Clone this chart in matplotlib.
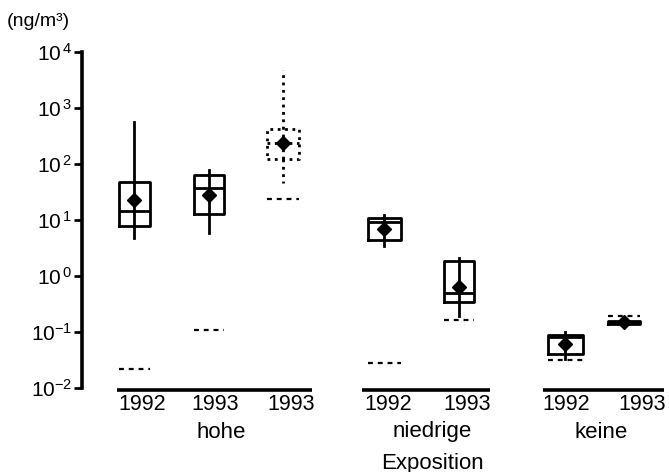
import matplotlib
matplotlib.use("Agg")
import matplotlib.pyplot as plt

plt.rcParams['font.family'] = ['Liberation Sans', 'DejaVu Sans']
plt.rcParams['mathtext.fontset'] = 'custom'
plt.rcParams['mathtext.rm'] = 'Liberation Sans'

# values (ng/m3)
years = ['1992', '1993', '1993', '1992', '1993', '1992', '1993']
q1 = [7.8, 12.6, 123, 4.4, 0.35, 0.041, 0.14]
q3 = [47, 63, 420, 10.7, 1.85, 0.089, 0.16]
medians = [14.7, 38, 240, 9.1, 0.49, 0.081, 0.15]
means = [23, 28, 234, 6.9, 0.63, 0.061, 0.15]
whislo = [4.7, 5.8, 45, 3.4, 0.19, 0.033, 0.14]
whishi = [555, 78, 4800, 12.3, 2.1, 0.10, 0.17]
limits = [0.022, 0.11, 24, 0.028, 0.165, 0.031, 0.19]
groups = ['hohe', 'niedrige', 'keine']

# layout (x in pixels of the figure)
W, H = 669, 472
pos = [134, 209, 283, 384, 459, 565, 624]
widths = [31, 30, 32, 33, 30, 35, 32]
label_x = [142, 215, 291, 388, 467, 566, 642]
group_span = [(117, 312), (362, 490), (543, 664)]
group_x = [221, 432, 601]
dotted = [False, False, True, False, False, False, False]

fig = plt.figure(figsize=(W / 100, H / 100), dpi=100)
top_px, y0_px, dec_px = 52, 388, 56.0
bot_px = y0_px + 0.15 * dec_px
ax = fig.add_axes([82 / W, 1 - bot_px / H, 1 - 82 / W, (bot_px - top_px) / H])
ax.set_yscale('log')
ax.set_ylim(10 ** -2.15, 1e4)
ax.set_xlim(82, W)

for i in range(len(pos)):
    ls = ':' if dotted[i] else '-'
    lw = 2.0
    stats = [dict(med=medians[i], q1=q1[i], q3=q3[i], whislo=whislo[i],
                  whishi=whishi[i], mean=means[i], fliers=[])]
    ax.bxp(stats, positions=[pos[i]], widths=[widths[i]], showmeans=True,
           showcaps=False, showfliers=False, manage_ticks=False,
           boxprops=dict(color='black', linewidth=lw, linestyle=ls),
           whiskerprops=dict(color='black', linewidth=2.0, linestyle=ls),
           medianprops=dict(color='black', linewidth=lw, linestyle=ls),
           meanprops=dict(marker='D', markerfacecolor='black',
                          markeredgecolor='black', markersize=7.5))
    # whisker also passes through the box
    ax.vlines(pos[i], q1[i], q3[i], color='black', linewidth=2.0, linestyles=ls)
    ax.hlines(limits[i], pos[i] - widths[i] / 2, pos[i] + widths[i] / 2,
              color='black', linewidth=1.6, linestyles=(0, (2.2, 2.2)))

base_y = 10 ** (-2 - 2 / dec_px)
for a, b in group_span:
    ax.hlines(base_y, a, b, color='black', linewidth=2.6, clip_on=False)

for x, t in zip(label_x, years):
    fig.text(x / W, 1 - 405 / H, t, ha='center', va='center', fontsize=15.5)
for x, t in zip(group_x, groups):
    fig.text(x / W, 1 - 432 / H, t, ha='center', va='center', fontsize=16)
fig.text(group_x[1] / W, 1 - 463 / H, 'Exposition', ha='center', va='center',
         fontsize=16)

fig.text(7 / W, 1 - 22 / H, '(ng/m³)', ha='left', va='center', fontsize=14)

ticks = [1e-2, 1e-1, 1e0, 1e1, 1e2, 1e3, 1e4]
tick_labels = [r'$\mathregular{10^{-2}}$', r'$\mathregular{10^{-1}}$',
               r'$\mathregular{10^{\,0}}$', r'$\mathregular{10^{\,1}}$',
               r'$\mathregular{10^{\,2}}$', r'$\mathregular{10^{\,3}}$',
               r'$\mathregular{10^{\,4}}$']
ax.set_yticks(ticks)
ax.set_yticklabels(tick_labels, fontsize=15)
ax.minorticks_off()
ax.tick_params(axis='y', direction='out', length=5.5, width=2.0, pad=1.5)
ax.set_xticks([])
for s in ['top', 'right', 'bottom']:
    ax.spines[s].set_visible(False)
ax.spines['left'].set_linewidth(2.6)
ax.spines['left'].set_bounds(1e-2, 1e4)
ax.patch.set_alpha(0)

fig.savefig('out.png', dpi=100)
